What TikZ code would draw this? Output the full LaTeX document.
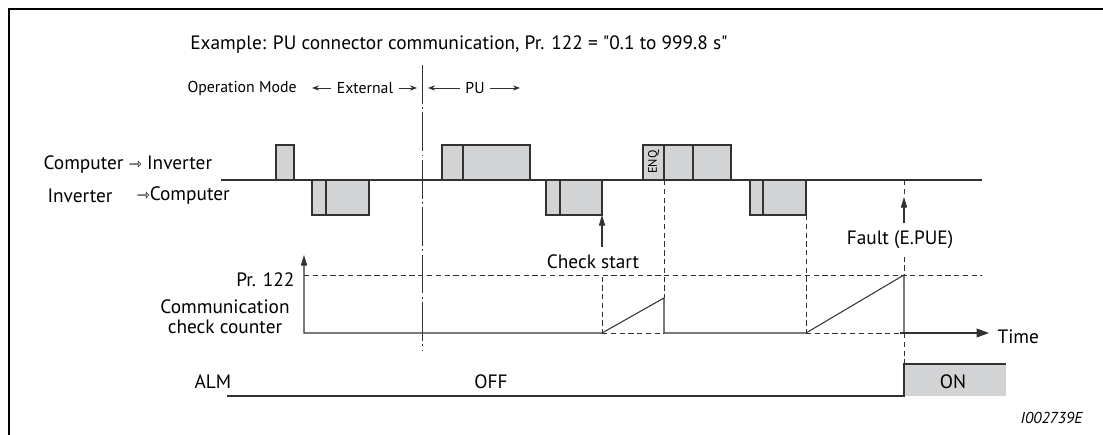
\documentclass[tikz,border=0pt]{standalone}
\usepackage{fontspec}
\setmainfont{PT Sans}[Ligatures=TeXOff]
\newfontfamily\arrowfont{DejaVu Sans}
\usetikzlibrary{arrows.meta}
\definecolor{pulsefill}{RGB}{210,211,213}
\definecolor{linegray}{RGB}{50,50,50}
\newcommand{\sigarrow}{{\arrowfont\fontsize{9}{9}\selectfont ⇾}}
\begin{document}
\begin{tikzpicture}[x=0.02cm,y=-0.02cm,line width=0.6pt,draw=linegray,
  every node/.style={font=\fontsize{11}{11.6}\selectfont,inner sep=0pt},
  pulse/.style={draw=linegray,fill=pulsefill},
  guide/.style={dash pattern=on 3pt off 2pt,line width=0.5pt},
  modearrow/.style={-{Stealth[length=4pt,width=3pt]},line width=0.5pt},
  pointer/.style={-{Triangle[length=6pt,width=3.5pt]},line width=0.6pt}]
  \useasboundingbox (0,0) rectangle (1103,435);
  \draw[line width=1.6pt,black] (1103,9) -- (9,9) -- (9,435);
  % headings
  \node (title) at (459,45) {Example: PU connector communication, Pr. 122 = "0.1 to 999.8 s"};
  \node[anchor=west,font=\fontsize{9}{9}\selectfont] (mode) at (187,88) {Operation Mode};
  \node[font=\fontsize{9}{9}\selectfont,inner sep=3pt] (ext) at (365,88) {External};
  \node[font=\fontsize{9}{9}\selectfont,inner sep=3pt] (pu) at (475,88) {PU};
  \coordinate (extL) at (312,88); \coordinate (extR) at (417,88);
  \coordinate (puL) at (428,88); \coordinate (puR) at (520,88);
  \draw[modearrow] (ext.west) -- (extL); \draw[modearrow] (ext.east) -- (extR);
  \draw[modearrow] (pu.west) -- (puL); \draw[modearrow] (pu.east) -- (puR);
  \draw[line width=0.5pt,dash pattern=on 22pt off 2pt on 1pt off 2pt] (422,65) -- (422,350);
  % signal lines
  \node[anchor=west] (cpuinv) at (43,165) {Computer \sigarrow\ Inverter};
  \node[anchor=west] (invlbl) at (47,196) {Inverter};
  \node[anchor=west] (invcpu) at (136,196) {\sigarrow Computer};
  \draw (221,180) -- (982,180);
  \draw[pulse] (276,180) rectangle (294,145);
  \draw[pulse] (442,180) rectangle (530,145); \draw (463,180) -- (463,145);
  \draw[pulse] (643,180) rectangle (731,145); \draw (664,180) -- (664,145); \draw (693,180) -- (693,145);
  \node[rotate=90,font=\fontsize{7}{7}\selectfont] (enq) at (653.5,162) {ENQ};
  \foreach \xa/\xb/\xc in {312/326/369, 546/560/602, 750/763/806}
    {\draw[pulse] (\xa,180) rectangle (\xc,215); \draw (\xb,180) -- (\xb,215);}
  % check start and fault
  \node (chk) at (593,262) {Check start};
  \coordinate (chktip) at (602,215);
  \draw[pointer] ([yshift=4pt]chktip |- chk.north) -- (chktip);
  \node (fault) at (900,240) {Fault (E.PUE)};
  \coordinate (faulttip) at (904,197);
  \draw[pointer] ([yshift=4pt]faulttip |- fault.north) -- (faulttip);
  % communication check counter
  \node[anchor=east] (prlbl) at (295,280) {Pr. 122};
  \node[align=center] (cntlbl) at (225,317) {Communication\\check counter};
  \coordinate (axtop) at (304,255); \coordinate (origin) at (304,333);
  \coordinate (rampa) at (602,333); \coordinate (peaka) at (664,298); \coordinate (enda) at (664,333);
  \coordinate (rampb) at (806,333); \coordinate (peakb) at (904,275); \coordinate (endb) at (904,333);
  \coordinate (timetip) at (989,333);
  \draw[guide] (rampa) -- (enda); \draw[guide] (rampb) -- (endb);
  \draw[guide] (304,275) -- (982,275);
  \draw[guide] (664,180) -- (peaka);
  \draw[guide] ([yshift=-4pt]chk.south -| rampa) -- (rampa);
  \draw[guide] (806,215) -- (rampb);
  \draw[guide] (904,180) -- (faulttip);
  \draw[guide] ([yshift=-4pt]fault.south -| peakb) -- (peakb);
  \draw[guide] (endb) -- (904,364);
  \draw[{Triangle[length=6pt,width=3.5pt]}-] (axtop) -- (origin) -- (rampa) -- (peaka) -- (enda) -- (rampb) -- (peakb) -- (endb);
  \draw[-{Triangle[length=7pt,width=5pt]}] (900,333) -- (timetip);
  \node[anchor=west] (time) at (997,337) {Time};
  % alarm output
  \node[anchor=west] (alm) at (194,382) {ALM};
  \fill[pulsefill] (904,364) rectangle (1006,396);
  \draw (227,396) -- (904,396) -- (904,364) -- (1006,364);
  \node (off) at (491,382) {OFF};
  \node (on) at (953,382) {ON};
  \node[anchor=east,font=\fontsize{9}{9}\selectfont\itshape] (figid) at (1083,418) {I002739E};
\end{tikzpicture}
\end{document}
